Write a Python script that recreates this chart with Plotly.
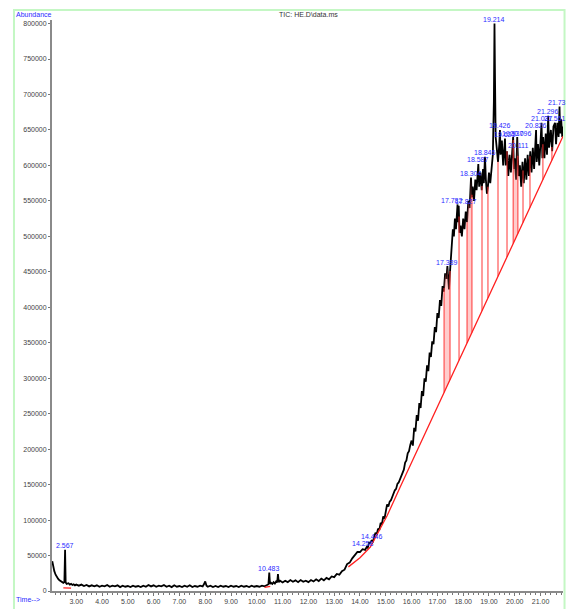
import numpy as np
import plotly.graph_objects as go

# ---- chromatogram (TIC) : retention time (min) and abundance ----
rt_min = [
    2.07, 2.10, 2.15, 2.20, 2.25, 2.30, 2.35, 2.40, 2.45, 2.50, 2.54, 2.567, 2.59, 2.63, 2.70, 2.75, 2.80, 2.85, 2.90, 2.95, 3.00,
    3.1, 3.2, 3.3, 3.4, 3.5, 3.6, 3.7, 3.8, 3.9, 4.0, 4.1, 4.2, 4.3, 4.4, 4.5, 4.6, 4.7, 4.8, 4.9, 5.0,
    5.1, 5.2, 5.3, 5.4, 5.5, 5.6, 5.7, 5.8, 5.9, 6.0, 6.1, 6.2, 6.3, 6.4, 6.5, 6.6, 6.7, 6.8, 6.9, 7.0,
    7.1, 7.2, 7.3, 7.4, 7.5, 7.6, 7.7, 7.8, 7.9, 7.95, 8.0, 8.05, 8.1, 8.2, 8.3, 8.4, 8.5, 8.6, 8.7, 8.8, 8.9,
    9.0, 9.1, 9.2, 9.3, 9.4, 9.5, 9.6, 9.7, 9.8, 9.9, 10.0, 10.1, 10.2, 10.3, 10.4,
    10.45, 10.483, 10.51, 10.55, 10.6, 10.65, 10.7, 10.75, 10.79, 10.82, 10.85, 10.9, 11.0, 11.1, 11.2, 11.3,
    11.4, 11.5, 11.6, 11.7, 11.8, 11.9, 12.0, 12.1, 12.2, 12.3, 12.4, 12.5, 12.6, 12.7, 12.8, 12.9, 13.0,
    13.1, 13.2, 13.3, 13.4, 13.5, 13.6, 13.7, 13.8, 13.9, 14.0, 14.1, 14.2, 14.258, 14.3, 14.35, 14.4, 14.446, 14.5,
    14.55, 14.6, 14.65, 14.7, 14.75, 14.8, 14.85, 14.9, 14.95, 15.0, 15.05, 15.1, 15.15, 15.2, 15.25, 15.3,
    15.35, 15.4, 15.45, 15.5, 15.55, 15.6, 15.65, 15.7, 15.75, 15.8, 15.85, 15.9, 15.95,
    16.0, 16.05, 16.1, 16.15, 16.2, 16.25, 16.3, 16.35, 16.4, 16.45, 16.5, 16.55, 16.6, 16.65, 16.7, 16.75,
    16.8, 16.85, 16.9, 16.95, 17.0, 17.05, 17.1, 17.15, 17.2, 17.25, 17.3, 17.35,
    17.389, 17.42, 17.45, 17.48, 17.52, 17.56, 17.60, 17.64, 17.68, 17.72, 17.75, 17.782, 17.80, 17.827,
    17.86, 17.90, 17.95, 18.00, 18.05, 18.10, 18.15, 18.20, 18.25, 18.304, 18.33, 18.37, 18.42, 18.47,
    18.52, 18.587, 18.62, 18.67, 18.72, 18.77, 18.80, 18.846, 18.88, 18.92, 18.96, 19.00, 19.05, 19.10,
    19.15, 19.19, 19.214, 19.235, 19.26,
    19.30, 19.35, 19.40, 19.426, 19.45, 19.50, 19.55, 19.60, 19.621, 19.65, 19.70, 19.75, 19.80, 19.85,
    19.90, 19.937, 19.97, 20.00, 20.05, 20.096, 20.111, 20.15, 20.20, 20.25, 20.30, 20.35, 20.40, 20.45,
    20.50, 20.55, 20.60, 20.65, 20.70, 20.75, 20.826, 20.85, 20.90, 20.95, 21.00, 21.037, 21.07, 21.10,
    21.15, 21.20, 21.25, 21.296, 21.33, 21.40, 21.45, 21.50, 21.561, 21.60, 21.65, 21.70, 21.735, 21.76,
    21.80, 21.84, 21.87,
]
abundance = [
    42000, 36000, 28000, 23000, 19500, 17000, 15000, 13500, 12000, 11500, 12500, 58000, 12000, 10000, 11000, 9000, 10000, 8500, 9500, 8000, 9000,
    7500, 9000, 7000, 8500, 6500, 8000, 6500, 8000, 6000, 7500, 6500, 8500, 6000, 7500, 6500, 8000, 5500, 7500, 6000, 7000,
    5500, 7500, 6000, 7000, 5500, 7500, 6000, 8500, 6500, 8000, 6000, 7500, 6500, 8500, 6000, 7500, 5500, 8000, 6000, 7000,
    5500, 7500, 6000, 8000, 5500, 7000, 6000, 7500, 6500, 9500, 13500, 7500, 6000, 7500, 5500, 7000, 5500, 7500, 6000, 7000, 5500,
    7500, 6000, 7000, 5500, 7500, 6000, 7000, 5500, 7500, 6000, 7000, 6000, 7500, 6500, 8500,
    9500, 26000, 10000, 11500, 10000, 12500, 10500, 13500, 12000, 24000, 12500, 14500, 12000, 14500, 12500, 15500,
    13000, 15000, 12500, 15500, 13000, 14500, 12500, 15500, 13500, 16500, 14000, 17500, 15000, 18500, 16500, 20500, 19500,
    24000, 23000, 28000, 30000, 38000, 40000, 46000, 50000, 55000, 55000, 59000, 58000, 62000, 61000, 68000, 68000, 71000, 70000,
    76000, 82000, 80000, 88000, 86000, 96000, 94000, 105000, 102000, 114000, 122000, 119000, 126000, 128000, 133000, 136000,
    142000, 144000, 151000, 153000, 158000, 161000, 168000, 171000, 181000, 184000, 194000, 197000, 206000,
    212000, 205000, 230000, 225000, 248000, 240000, 265000, 258000, 282000, 275000, 300000, 295000, 318000, 310000, 336000, 330000,
    352000, 348000, 372000, 365000, 392000, 385000, 410000, 402000, 430000, 422000, 448000, 440000,
    458000, 440000, 425000, 445000, 470000, 495000, 510000, 500000, 525000, 510000, 530000, 545000, 520000, 543000,
    505000, 515000, 500000, 525000, 510000, 535000, 520000, 550000, 540000, 583000, 555000, 570000, 550000, 580000,
    565000, 602000, 570000, 590000, 565000, 595000, 575000, 612000, 580000, 560000, 570000, 590000, 575000, 600000,
    615000, 690000, 800000, 720000, 640000,
    625000, 605000, 630000, 650000, 615000, 635000, 600000, 625000, 638000, 600000, 620000, 585000, 615000, 590000,
    620000, 640000, 595000, 610000, 580000, 640000, 622000, 585000, 600000, 570000, 605000, 575000, 610000, 580000,
    615000, 585000, 620000, 590000, 625000, 595000, 650000, 605000, 630000, 600000, 635000, 660000, 610000, 640000,
    610000, 645000, 615000, 670000, 625000, 650000, 620000, 655000, 660000, 630000, 660000, 640000, 683000, 645000,
    665000, 640000, 655000,
]

# ---- integration baselines (red) ----
baseline_rt = [13.55, 14.0, 14.4, 15.05, 15.55, 21.87]
baseline_val = [34000, 47000, 62000, 106000, 146000, 641000]
small_base_rt = [[2.50, 2.80], [10.30, 10.52]]
small_base_val = [[4500, 4000], [5000, 6500]]

# peak boundary drop lines and shaded areas
drop_rt = [17.26, 17.49, 17.84, 18.15, 18.34, 18.73, 18.96, 19.35, 19.70, 19.94, 20.12, 20.32, 20.59, 21.09, 21.44]
shaded_pairs = [(17.26, 17.49), (18.15, 18.34), (19.94, 20.12)]

# ---- peak labels ----
peak_rt = [2.567, 10.483, 14.258, 14.446, 17.389, 17.782, 17.827, 18.304, 18.587, 18.846, 19.214,
           19.426, 19.621, 19.937, 20.096, 20.111, 20.826, 21.037, 21.296, 21.561, 21.735]
peak_text = ["2.567", "10.483", "14.258", "14.446", "17.389", "17.782", "17.827", "18.304", "18.587", "18.846", "19.214",
             "19.426", "19.621", "19.937", "20.096", "20.111", "20.826", "21.037", "21.296", "21.561", "21.73"]
# small horizontal nudges (px) so crowded labels sit side by side as in the original
label_dx = [0, 0, -4, 0, 0, -6, 7, 0, 0, 0, 0,
            0, 0, 0, 4, 0, 0, 0, 0, 0, -3]

x_range = [2.06, 21.87]
y_range = [0, 805000]
y_ticks = [0, 50000, 100000, 150000, 200000, 250000, 300000, 350000, 400000, 450000, 500000,
           550000, 600000, 650000, 700000, 750000, 800000]

FONT = "Arial, Liberation Sans, sans-serif"
BLUE = "#2b2bff"

fig = go.Figure()

# chromatogram trace
fig.add_trace(go.Scatter(x=rt_min, y=abundance, mode="lines",
                         line=dict(color="black", width=1.8), hoverinfo="skip"))

# shaded peak areas
for t1, t2 in shaded_pairs:
    b1, b2 = np.interp([t1, t2], baseline_rt, baseline_val)
    seg_t = [t for t in rt_min if t1 < t < t2]
    seg_v = [abundance[rt_min.index(t)] for t in seg_t]
    top1, top2 = np.interp([t1, t2], rt_min, abundance)
    xs = [t1, t1] + seg_t + [t2, t2, t1]
    ys = [b1, top1] + seg_v + [top2, b2, b1]
    fig.add_trace(go.Scatter(x=xs, y=ys, mode="lines", fill="toself",
                             fillcolor="rgba(255,110,110,0.35)", line=dict(width=0),
                             hoverinfo="skip"))

# drop lines
dx, dy = [], []
for t in drop_rt:
    top = float(np.interp(t, rt_min, abundance))
    bot = float(np.interp(t, baseline_rt, baseline_val))
    dx += [t, t, None]
    dy += [top, bot, None]
fig.add_trace(go.Scatter(x=dx, y=dy, mode="lines", line=dict(color="rgba(255,50,50,0.7)", width=1.4),
                         hoverinfo="skip"))

# baselines
fig.add_trace(go.Scatter(x=baseline_rt, y=baseline_val, mode="lines",
                         line=dict(color="#ff2020", width=1.3), hoverinfo="skip"))
for bx, by in zip(small_base_rt, small_base_val):
    fig.add_trace(go.Scatter(x=bx, y=by, mode="lines",
                             line=dict(color="#ff2020", width=1.3), hoverinfo="skip"))

# peak labels
for t, txt, sx in zip(peak_rt, peak_text, label_dx):
    yv = float(np.interp(t, rt_min, abundance))
    fig.add_annotation(x=t, y=yv, text=txt, showarrow=False, xanchor="center", yanchor="middle",
                       yshift=4, xshift=sx, font=dict(family=FONT, size=7, color=BLUE))

# header / axis captions
fig.add_annotation(xref="paper", yref="paper", x=-0.0744, y=1.0104, text="Abundance",
                   showarrow=False, xanchor="left", yanchor="middle",
                   font=dict(family=FONT, size=7, color=BLUE))
fig.add_annotation(xref="paper", yref="paper", x=0.501, y=1.0104, text="TIC: HE.D\\data.ms",
                   showarrow=False, xanchor="center", yanchor="middle",
                   font=dict(family=FONT, size=7, color="#333333"))
fig.add_annotation(xref="paper", yref="paper", x=-0.0744, y=-0.0156, text="Time-->",
                   showarrow=False, xanchor="left", yanchor="middle",
                   font=dict(family=FONT, size=7, color=BLUE))

# green frame
fig.add_shape(type="rect", xref="paper", yref="paper", x0=-0.0744, x1=1.003, y0=-0.2, y1=1.0173,
              line=dict(color="#c4f7c4", width=2), fillcolor="rgba(0,0,0,0)", layer="below")

fig.update_layout(
    width=567, height=609,
    margin=dict(l=52, r=4, t=20, b=11),
    paper_bgcolor="white", plot_bgcolor="white",
    showlegend=False,
    font=dict(family=FONT, size=7, color="#333333"),
    xaxis=dict(range=x_range, showgrid=False, zeroline=False, showline=True,
               linecolor="#8a8a8a", linewidth=1.5, ticks="outside", ticklen=3, tickcolor="#777",
               dtick=1, tick0=0, tickformat=".2f", tickfont=dict(size=7, color="#444"),
               minor=dict(ticks="outside", dtick=0.2, ticklen=2, tickcolor="#777")),
    yaxis=dict(range=y_range, showgrid=False, zeroline=False, showline=True,
               linecolor="#8a8a8a", linewidth=2, ticks="outside", ticklen=2, tickcolor="#777",
               tickmode="array", tickvals=y_ticks, tickformat="d",
               tickfont=dict(size=7, color="#444")),
)

fig.write_html("out.html")
